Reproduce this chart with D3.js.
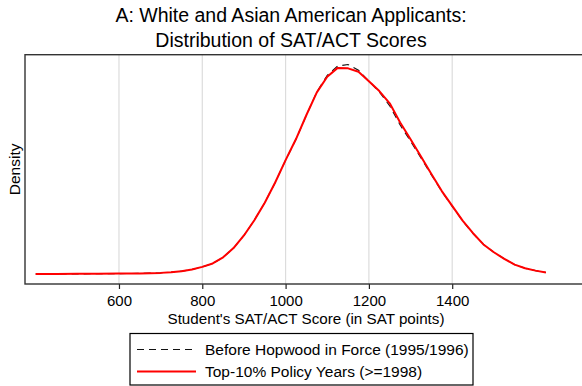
<!DOCTYPE html>
<html>
<head>
<meta charset="utf-8">
<script src="https://cdn.jsdelivr.net/npm/d3@7"></script>
<style>
  html, body { margin: 0; padding: 0; background: #fff; }
  svg { display: block; }
  text { font-family: "Liberation Sans", Arial, Helvetica, sans-serif; fill: #000; }
</style>
</head>
<body>
<svg id="chart" width="582" height="386"></svg>
<script>
// SAT/ACT score grid (in SAT points)
const scores = [400, 450, 500, 550, 600, 650, 700, 725, 750, 775, 800, 825, 850, 875, 900, 925, 950, 975,
  1000, 1025, 1050, 1075, 1100, 1125, 1150, 1175, 1200, 1225, 1250, 1275, 1300, 1325, 1350, 1375,
  1400, 1425, 1450, 1475, 1500, 1525, 1550, 1575, 1600, 1625];

// Kernel density, before Hopwood in force (1995/1996)
const densityBefore = [0.000001, 0.000001, 0.000002, 0.000003, 0.000005, 0.000007, 0.000013, 0.000020,
  0.000032, 0.000050, 0.000080, 0.000118, 0.000186, 0.000290, 0.000430, 0.000600, 0.000795, 0.001020,
  0.001268, 0.001502, 0.001770, 0.002030, 0.002215, 0.002318, 0.002335, 0.002272, 0.002150, 0.002030,
  0.001875, 0.001662, 0.001480, 0.001295, 0.001105, 0.000920, 0.000755, 0.000592, 0.000452, 0.000330,
  0.000243, 0.000170, 0.000105, 0.000065, 0.000038, 0.000017];

// Kernel density, top-10% policy years (>=1998)
const densityAfter = [0.000001, 0.000001, 0.000002, 0.000003, 0.000005, 0.000007, 0.000013, 0.000020,
  0.000032, 0.000050, 0.000080, 0.000118, 0.000186, 0.000290, 0.000430, 0.000600, 0.000795, 0.001020,
  0.001270, 0.001505, 0.001773, 0.002025, 0.002200, 0.002298, 0.002293, 0.002255, 0.002150, 0.002040,
  0.001903, 0.001690, 0.001503, 0.001310, 0.001115, 0.000925, 0.000760, 0.000595, 0.000455, 0.000330,
  0.000243, 0.000170, 0.000105, 0.000065, 0.000038, 0.000017];

const xTicks = [600, 800, 1000, 1200, 1400];

const titleLines = ["A: White and Asian American Applicants:", "Distribution of SAT/ACT Scores"];
const xTitle = "Student's SAT/ACT Score (in SAT points)";
const yTitle = "Density";
const legendLabels = ["Before Hopwood in Force (1995/1996)", "Top-10% Policy Years (>=1998)"];

const svg = d3.select("#chart");

const plot = { left: 25, right: 583, top: 54.7, bottom: 284 };

const x = d3.scaleLinear().domain([374.4, 1714]).range([plot.left, plot.right]);
const y = d3.scaleLinear().domain([-0.000111, 0.002445]).range([plot.bottom, plot.top]);

// Vertical grid lines
svg.append("g")
  .selectAll("line")
  .data(xTicks)
  .join("line")
  .attr("x1", d => x(d)).attr("x2", d => x(d))
  .attr("y1", plot.top).attr("y2", plot.bottom)
  .attr("stroke", "#dcdcdc")
  .attr("stroke-width", 1.2);

// X axis with ticks and labels
const xAxis = d3.axisBottom(x).tickValues(xTicks).tickSize(5).tickPadding(6.5).tickFormat(d3.format("d"));
const gx = svg.append("g")
  .attr("transform", `translate(0,${plot.bottom})`)
  .call(xAxis);
gx.select(".domain").remove();
gx.selectAll(".tick line").attr("stroke", "#222").attr("stroke-width", 1.2);
gx.selectAll(".tick text")
  .style("font-family", "'Liberation Sans', Arial, Helvetica, sans-serif")
  .style("font-size", "15px")
  .attr("fill", "#000");

// Density curves
const line = d3.line()
  .x(d => x(d[0]))
  .y(d => y(d[1]))
  .curve(d3.curveLinear);

svg.append("path")
  .datum(scores.map((s, i) => [s, densityBefore[i]]))
  .attr("d", line)
  .attr("fill", "none")
  .attr("stroke", "#111")
  .attr("stroke-width", 1.1)
  .attr("stroke-dasharray", "7,5");

svg.append("path")
  .datum(scores.map((s, i) => [s, densityAfter[i]]))
  .attr("d", line)
  .attr("fill", "none")
  .attr("stroke", "#ff0000")
  .attr("stroke-width", 2)
  .attr("stroke-linejoin", "round");

// Plot frame
svg.append("rect")
  .attr("x", plot.left).attr("y", plot.top)
  .attr("width", plot.right - plot.left).attr("height", plot.bottom - plot.top)
  .attr("fill", "none")
  .attr("stroke", "#333")
  .attr("stroke-width", 1.4);

// Title
svg.append("g")
  .selectAll("text")
  .data(titleLines)
  .join("text")
  .attr("x", 291)
  .attr("y", (d, i) => 21.5 + i * 25.5)
  .attr("text-anchor", "middle")
  .style("font-size", "19.5px")
  .text(d => d);

// Axis titles
svg.append("text")
  .attr("x", 306).attr("y", 323.5)
  .attr("text-anchor", "middle")
  .style("font-size", "15.2px")
  .text(xTitle);

svg.append("text")
  .attr("transform", `translate(20,${(plot.top + plot.bottom) / 2}) rotate(-90)`)
  .attr("text-anchor", "middle")
  .style("font-size", "15.5px")
  .text(yTitle);

// Legend
const legend = svg.append("g");
legend.append("rect")
  .attr("x", 130).attr("y", 333.5)
  .attr("width", 343).attr("height", 51.5)
  .attr("fill", "#fff")
  .attr("stroke", "#000")
  .attr("stroke-width", 1.2);

const legendStyles = [
  { stroke: "#111", width: 1.1, dash: "7,5" },
  { stroke: "#ff0000", width: 2, dash: null }
];
legendLabels.forEach((label, i) => {
  const cy = 349.5 + i * 22;
  legend.append("line")
    .attr("x1", 137).attr("x2", 196)
    .attr("y1", cy).attr("y2", cy)
    .attr("stroke", legendStyles[i].stroke)
    .attr("stroke-width", legendStyles[i].width)
    .attr("stroke-dasharray", legendStyles[i].dash);
  legend.append("text")
    .attr("x", 205).attr("y", cy + 5.5)
    .style("font-size", "15.5px")
    .text(label);
});
</script>
</body>
</html>
